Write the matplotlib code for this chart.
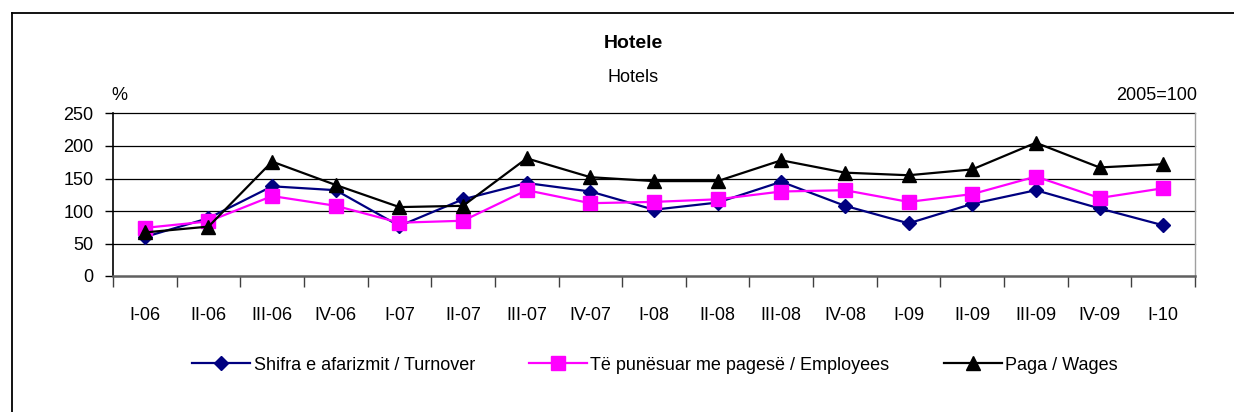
import matplotlib
matplotlib.use("Agg")
import matplotlib.pyplot as plt
from matplotlib.lines import Line2D

plt.rcParams['font.family'] = ['Liberation Sans', 'DejaVu Sans']

categories = ["I-06", "II-06", "III-06", "IV-06", "I-07", "II-07", "III-07", "IV-07",
              "I-08", "II-08", "III-08", "IV-08", "I-09", "II-09", "III-09", "IV-09", "I-10"]
turnover = [60, 89, 138, 132, 77, 118, 143, 130, 102, 113, 145, 108, 81, 111, 132, 104, 78]
employees = [74, 84, 123, 108, 82, 85, 132, 112, 114, 118, 130, 132, 114, 126, 153, 120, 135]
wages = [67, 76, 176, 140, 106, 108, 181, 152, 146, 146, 178, 159, 155, 164, 205, 167, 172]
yticks = [0, 50, 100, 150, 200, 250]

W, H = 1234, 412
fig = plt.figure(figsize=(W / 100, H / 100), dpi=100)

# outer frame (left and top edges visible)
fig.add_artist(Line2D([12 / W, 12 / W], [0, 1 - 13 / H], color='black', lw=1.3, transform=fig.transFigure))
fig.add_artist(Line2D([12 / W, 1], [1 - 13 / H, 1 - 13 / H], color='black', lw=1.3, transform=fig.transFigure))

left, right, top, bottom = 113, 1195, 113.5, 276
ax = fig.add_axes([left / W, 1 - bottom / H, (right - left) / W, (bottom - top) / H])

x = list(range(len(categories)))
ax.plot(x, turnover, color='#000080', lw=1.6, marker='D', markersize=7.5, label='Shifra e afarizmit / Turnover', zorder=3, clip_on=False)
ax.plot(x, employees, color='#FF00FF', lw=1.6, marker='s', markersize=9.5, label='Të punësuar me pagesë / Employees', zorder=3, clip_on=False)
ax.plot(x, wages, color='black', lw=1.6, marker='^', markersize=10.5, label='Paga / Wages', zorder=4, clip_on=False)

ax.set_xlim(-0.5, len(categories) - 0.5)
ax.set_ylim(0, 250)
ax.set_yticks(yticks)
ax.set_yticklabels([str(v) for v in yticks], fontsize=13)
for v in yticks[1:]:
    ax.axhline(v, color='black', lw=0.9, zorder=1, clip_on=False)

ax.set_xticks(x)
ax.set_xticklabels(categories, fontsize=13)
ax.tick_params(axis='x', which='major', length=0, pad=22)
ax.set_xticks([i - 0.5 for i in range(len(categories) + 1)], minor=True)
ax.tick_params(axis='x', which='minor', length=8, width=1.0, color='#404040', direction='out')
ax.tick_params(axis='y', length=6, width=1.0, direction='out', pad=8)

ax.spines['top'].set_visible(False)
ax.spines['left'].set_color('black')
ax.spines['left'].set_linewidth(1.2)
ax.spines['bottom'].set_color('#606060')
ax.spines['bottom'].set_linewidth(1.8)
ax.spines['right'].set_color('#a0a0a0')
ax.spines['right'].set_linewidth(1.0)

fig.text(633 / W, 1 - 44 / H, 'Hotele', ha='center', va='center', fontsize=14, fontweight='bold')
fig.text(633 / W, 1 - 77 / H, 'Hotels', ha='center', va='center', fontsize=13)
fig.text(119 / W, 1 - 95 / H, '%', ha='center', va='center', fontsize=13)
fig.text(1197 / W, 1 - 95 / H, '2005=100', ha='right', va='center', fontsize=13)

leg = fig.legend(loc='center', bbox_to_anchor=(655 / W, 1 - 365 / H), ncol=3, frameon=False,
                 fontsize=13, handlelength=3.2, columnspacing=3.0, handletextpad=0.2)

fig.savefig('out.png', dpi=100, facecolor='white')
